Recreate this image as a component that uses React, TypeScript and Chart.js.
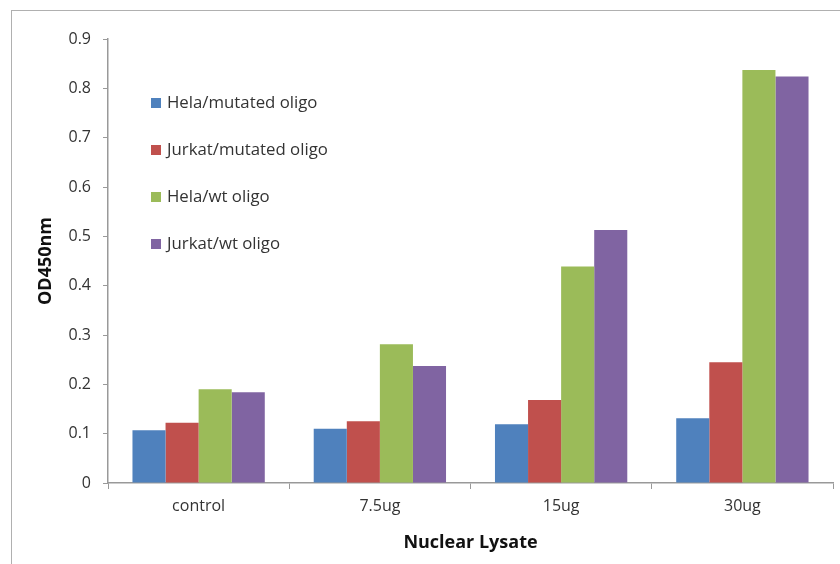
import React, { useEffect, useRef } from "react";
import { Chart, registerables } from "chart.js";

Chart.register(...registerables);

const categories = ["control", "7.5ug", "15ug", "30ug"];
const seriesNames = ["Hela/mutated oligo", "Jurkat/mutated oligo", "Hela/wt oligo", "Jurkat/wt oligo"];
const helaMutated = [0.107, 0.110, 0.119, 0.131];
const jurkatMutated = [0.122, 0.125, 0.168, 0.245];
const helaWt = [0.190, 0.281, 0.439, 0.837];
const jurkatWt = [0.184, 0.237, 0.513, 0.824];
const seriesColors = ["#4F81BD", "#C0504D", "#9BBB59", "#8064A2"];
const yTicks = [0, 0.1, 0.2, 0.3, 0.4, 0.5, 0.6, 0.7, 0.8, 0.9];

const FONT = "'Open Sans', Lato, sans-serif";

const insideLegend = {
  id: "insideLegend",
  afterDraw(chart: any) {
    const ctx = chart.ctx;
    ctx.save();
    ctx.font = `16.8px ${FONT}`;
    ctx.textBaseline = "middle";
    ctx.textAlign = "left";
    chart.data.datasets.forEach((ds: any, i: number) => {
      const y = 103 + i * 47;
      ctx.fillStyle = ds.backgroundColor;
      ctx.fillRect(151, y - 5, 10, 10);
      ctx.fillStyle = "#333333";
      ctx.fillText(ds.label, 167, y);
    });
    ctx.restore();
  },
};

export default function App() {
  const ref = useRef<HTMLCanvasElement | null>(null);
  useEffect(() => {
    if (!ref.current) return;
    const values = [helaMutated, jurkatMutated, helaWt, jurkatWt];
    const chart = new Chart(ref.current, {
      type: "bar",
      data: {
        labels: categories,
        datasets: values.map((v, i) => ({
          label: seriesNames[i],
          data: v,
          backgroundColor: seriesColors[i],
          borderWidth: 0,
          categoryPercentage: 0.73,
          barPercentage: 1,
        })),
      },
      plugins: [insideLegend],
      options: {
        animation: false,
        responsive: false,
        maintainAspectRatio: false,
        layout: { padding: { left: 0, right: 7, top: 39, bottom: 0 } },
        plugins: {
          legend: { display: false },
          tooltip: { enabled: false },
        },
        scales: {
          x: {
            afterFit: (s: any) => { s.height = 81; },
            grid: {
              display: true,
              drawOnChartArea: false,
              drawTicks: true,
              tickLength: 6,
              color: "#999999",
              offset: true,
            },
            border: { display: true, color: "#999999", width: 1.5 },
            ticks: {
              color: "#333333",
              font: { family: FONT, size: 16 },
              padding: 8,
            },
            title: {
              display: true,
              text: "Nuclear Lysate",
              color: "#111111",
              font: { family: FONT, size: 18, weight: "bold" },
              padding: { top: 0, bottom: 10 },
            },
          },
          y: {
            min: 0,
            max: 0.9,
            afterFit: (s: any) => { s.width = 108; },
            afterBuildTicks: (s: any) => {
              s.ticks = yTicks.map((v) => ({ value: v }));
            },
            grid: {
              display: true,
              drawOnChartArea: false,
              drawTicks: true,
              tickLength: 5,
              color: "#999999",
            },
            border: { display: true, color: "#999999", width: 1.5 },
            ticks: {
              color: "#333333",
              font: { family: FONT, size: 16 },
              padding: 12,
              callback: (v: any) => String(Math.round(Number(v) * 10) / 10),
            },
            title: {
              display: true,
              text: "OD450nm",
              color: "#111111",
              font: { family: FONT, size: 18, weight: "bold" },
              padding: { top: 35, bottom: 0 },
            },
          },
        },
      },
    });
    return () => chart.destroy();
  }, []);

  return (
    <div style={{ position: "fixed", left: 0, top: 0, width: 840, height: 564, background: "#fff", overflow: "hidden" }}>
      <div
        style={{
          position: "absolute",
          left: 11,
          top: 10,
          width: 900,
          height: 700,
          border: "1.5px solid #b0b0b0",
          boxSizing: "border-box",
        }}
      />
      <canvas ref={ref} width={840} height={564} style={{ position: "absolute", left: 0, top: 0, width: 840, height: 564 }} />
    </div>
  );
}
